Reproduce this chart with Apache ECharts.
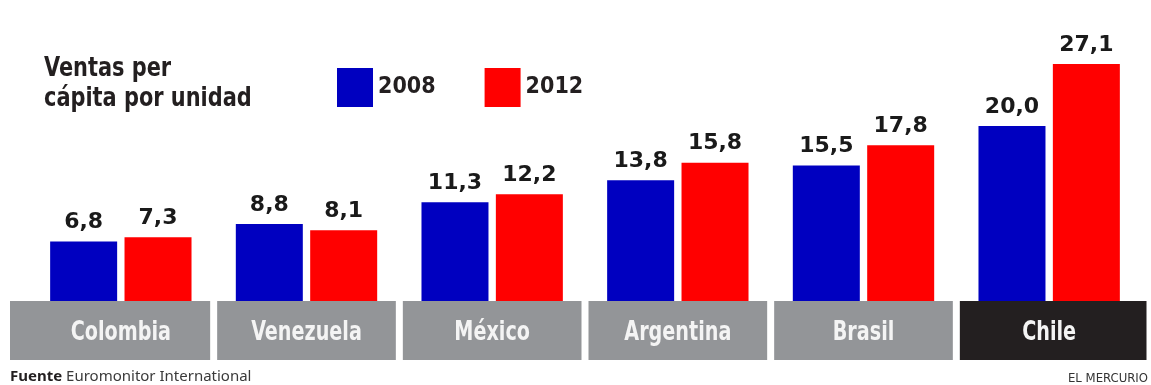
<!DOCTYPE html>
<html>
<head>
<meta charset="utf-8">
<script src="https://cdn.jsdelivr.net/npm/echarts@6/dist/echarts.min.js"></script>
<style>
  html, body { margin: 0; padding: 0; background: #fff; }
  #chart { width: 1151px; height: 385px; }
</style>
</head>
<body>
<div id="chart"></div>
<script>
// datos
const paises = ['Colombia', 'Venezuela', 'México', 'Argentina', 'Brasil', 'Chile'];
const ventas2008 = [6.8, 8.8, 11.3, 13.8, 15.5, 20.0];
const ventas2012 = [7.3, 8.1, 12.2, 15.8, 17.8, 27.1];

const COND = "'DejaVu Sans Condensed', sans-serif";
const AZUL = '#0000c0';
const ROJO = '#ff0000';

const myChart = echarts.init(document.getElementById('chart'), null, {
  width: 1151,
  height: 385
});

// formato con coma decimal
function coma(v) {
  return v.toFixed(1).replace('.', ',');
}

const etiqueta = {
  show: true,
  position: 'top',
  distance: 8,
  color: '#1a1a1a',
  fontFamily: 'DejaVu Sans',
  fontWeight: 'bold',
  fontSize: 22,
  formatter: p => coma(p.value)
};

const option = {
  animation: false,
  title: [
    {
      text: '{b|Fuente} Euromonitor International',
      left: 10,
      top: 369,
      padding: 0,
      textStyle: {
        fontFamily: 'Noto Sans',
        fontWeight: 'normal',
        fontSize: 15,
        color: '#3a3a3a',
        rich: {
          b: { fontFamily: 'Noto Sans', fontWeight: 'bold', fontSize: 15, color: '#231f20' }
        }
      }
    },
    {
      text: 'EL MERCURIO',
      right: 3,
      top: 372,
      padding: 0,
      textStyle: {
        fontFamily: COND,
        fontWeight: 'normal',
        fontSize: 13,
        color: '#333'
      }
    }
  ],
  // título condensado a mano
  graphic: [
    {
      type: 'text',
      x: 44,
      y: 54,
      scaleX: 0.86,
      silent: true,
      style: {
        text: 'Ventas per\ncápita por unidad',
        font: 'bold 27px ' + COND,
        lineHeight: 30,
        fill: '#231f20'
      }
    }
  ],
  legend: {
    data: ['2008', '2012'],
    left: 332,
    top: 63,
    itemWidth: 36,
    itemHeight: 39,
    itemGap: 49,
    icon: 'rect',
    textStyle: {
      fontFamily: COND,
      fontWeight: 'bold',
      fontSize: 23,
      color: '#231f20'
    }
  },
  grid: {
    left: 28,
    width: 1114,
    top: 38.5,
    height: 262.5
  },
  xAxis: {
    type: 'category',
    data: paises,
    axisLine: { show: false },
    axisTick: { show: false },
    axisLabel: { show: false }
  },
  yAxis: {
    type: 'value',
    min: 0,
    max: 30,
    show: false
  },
  series: [
    {
      // cajas grises con el nombre del país
      type: 'custom',
      silent: true,
      clip: false,
      z: 1,
      data: paises.map((p, i) => [i]),
      renderItem: function (params, api) {
        const idx = api.value(0);
        const base = api.coord([idx, 0]);
        const band = api.size([1, 0])[0];
        let x0 = base[0] - band / 2 + 3.5;
        let w = band - 7;
        if (idx === 0) { w += x0 - 10; x0 = 10; }
        if (idx === paises.length - 1) { w += 8; }
        const esChile = paises[idx] === 'Chile';
        return {
          type: 'group',
          children: [
            {
              type: 'rect',
              shape: { x: x0, y: base[1], width: w, height: 59 },
              style: { fill: esChile ? '#231f20' : '#939598' }
            },
            {
              type: 'text',
              x: base[0],
              y: base[1] + 32,
              scaleX: 0.82,
              style: {
                text: paises[idx],
                x: 0,
                y: 0,
                align: 'center',
                verticalAlign: 'middle',
                fill: '#f4f4f4',
                font: 'bold 26px ' + COND
              }
            }
          ]
        };
      }
    },
    {
      name: '2008',
      type: 'bar',
      data: ventas2008,
      barWidth: 67,
      barGap: '11%',
      z: 2,
      itemStyle: { color: AZUL },
      label: etiqueta
    },
    {
      name: '2012',
      type: 'bar',
      data: ventas2012,
      barWidth: 67,
      z: 2,
      itemStyle: { color: ROJO },
      label: etiqueta
    }
  ]
};

myChart.setOption(option);
</script>
</body>
</html>
